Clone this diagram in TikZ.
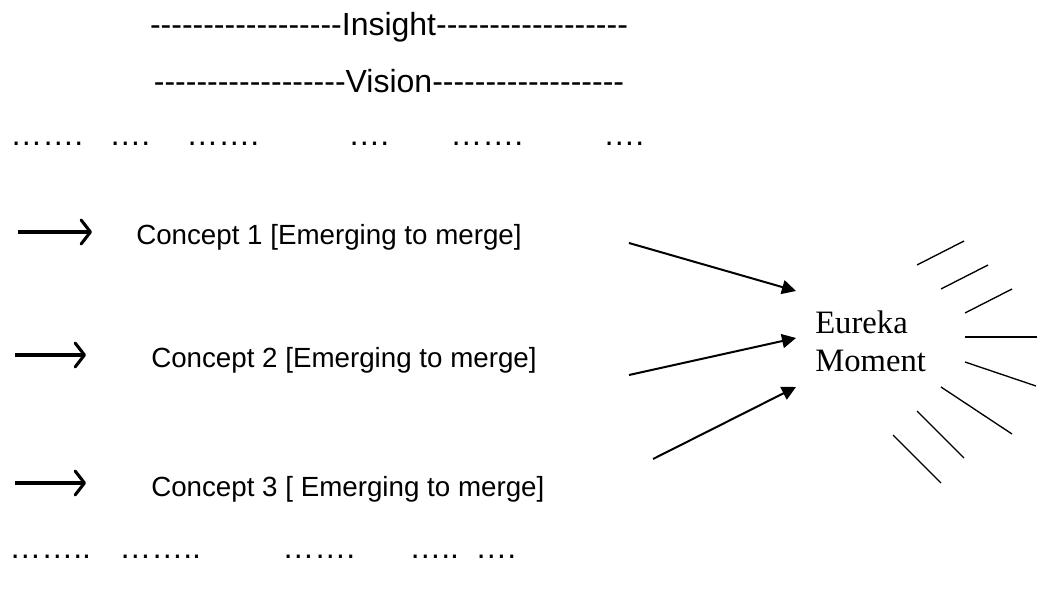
\documentclass[tikz,border=0pt]{standalone}
\usepackage{fontspec}
\setmainfont{Liberation Sans}
\newfontfamily\eurekafont{Liberation Serif}
\usetikzlibrary{arrows.meta}
\newcommand\hh{\mbox{-}}
\newcommand\eighteenhy{\hh\hh\hh\hh\hh\hh\hh\hh\hh\hh\hh\hh\hh\hh\hh\hh\hh\hh}
\begin{document}
\begin{tikzpicture}[x=0.75pt,y=-0.75pt,
  headline/.style={inner sep=0pt, font=\fontsize{24}{28}\selectfont},
  concept/.style={inner sep=0pt, anchor=west, font=\fontsize{20.8}{24}\selectfont},
  dotgroup/.style={inner sep=0pt, anchor=west, font=\fontsize{24}{28}\selectfont},
  leadarrow/.style={line width=2.3pt, -{Straight Barb[length=7pt,width=18pt,round]}},
  merge/.style={line width=1.5pt, -{Triangle[length=10.5pt,width=10.5pt]}},
  ray/.style={line width=1pt}]
\useasboundingbox (0,0) rectangle (1042,592);
% headings
\node[headline] (insight) at (389,27) {\eighteenhy Insight\eighteenhy};
\node[headline] (vision) at (389,81) {\eighteenhy Vision\eighteenhy};
% top dots
\node[dotgroup] (d1) at (10,144) {…….};
\node[dotgroup] (d2) at (109,144) {….};
\node[dotgroup] (d3) at (186,144) {…….};
\node[dotgroup] (d4) at (348,144) {….};
\node[dotgroup] (d5) at (450,144) {…….};
\node[dotgroup] (d6) at (603,144) {….};
% lead arrows
\coordinate (l1s) at (18,232); \coordinate (l1e) at (92,232);
\coordinate (l2s) at (15,355); \coordinate (l2e) at (86,355);
\coordinate (l3s) at (15,483); \coordinate (l3e) at (86,483);
\draw[leadarrow] (l1s) -- (l1e);
\draw[leadarrow] (l2s) -- (l2e);
\draw[leadarrow] (l3s) -- (l3e);
% concepts
\node[concept] (c1) at (136,237) {Concept 1 [Emerging to merge]};
\node[concept] (c2) at (151,360) {Concept 2 [Emerging to merge]};
\node[concept] (c3) at (151,489) {Concept 3 [ Emerging to merge]};
% bottom dots
\node[dotgroup] (b1) at (9,557) {……..};
\node[dotgroup] (b2) at (119,557) {……..};
\node[dotgroup] (b3) at (282,557) {…….};
\node[dotgroup] (b4) at (409,557) {…..};
\node[dotgroup] (b5) at (475,557) {….};
% eureka
\node[inner sep=0pt, anchor=west, align=left, font=\eurekafont\fontsize{24.5}{28.5}\selectfont] (eureka) at (815,341) {Eureka\\Moment};
% merging arrows
\coordinate (m1s) at (629,243); \coordinate (m1e) at (796,291);
\coordinate (m2s) at (629,375); \coordinate (m2e) at (796,338);
\coordinate (m3s) at (653,459); \coordinate (m3e) at (796,387);
\draw[merge] (m1s) -- (m1e);
\draw[merge] (m2s) -- (m2e);
\draw[merge] (m3s) -- (m3e);
% rays
\draw[ray] (917,265) -- (964,241);
\draw[ray] (941,289) -- (988,265);
\draw[ray] (965,313) -- (1012,289);
\draw[ray] (965,337) -- (1037,337);
\draw[ray] (965,362) -- (1036,386);
\draw[ray] (941,387) -- (1012,434);
\draw[ray] (917,411) -- (964,458);
\draw[ray] (893,435) -- (941,483);
\end{tikzpicture}
\end{document}
